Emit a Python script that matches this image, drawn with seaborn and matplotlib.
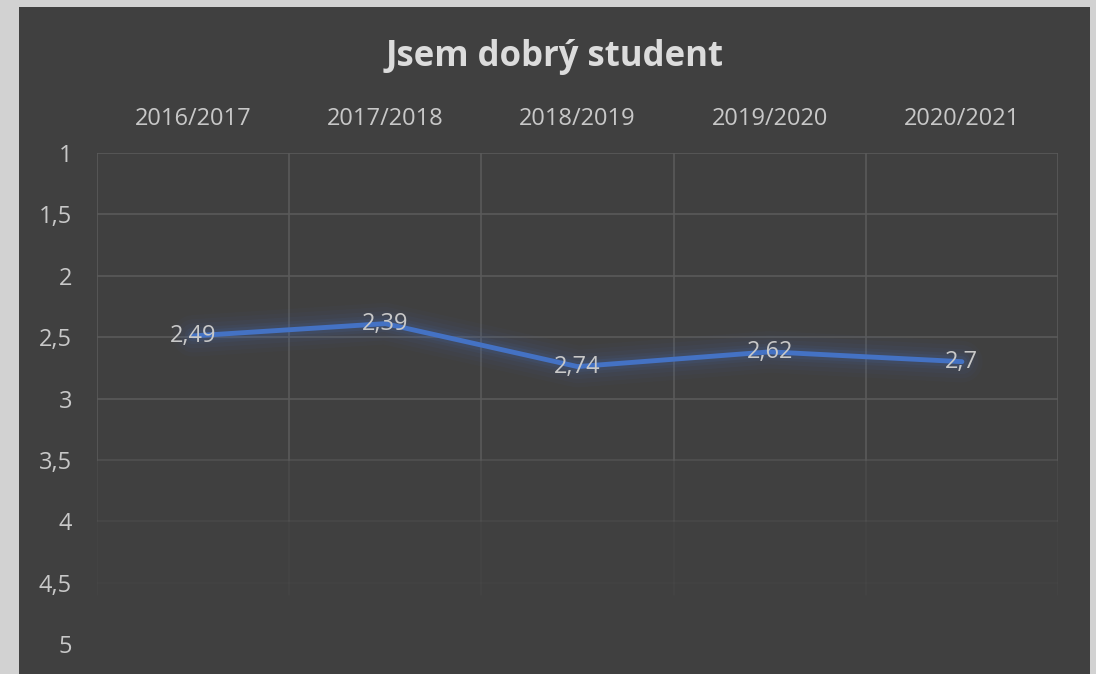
import pandas as pd
import numpy as np
import seaborn as sns
import matplotlib.pyplot as plt
from matplotlib.patches import Rectangle

# Data
years = ['2016/2017', '2017/2018', '2018/2019', '2019/2020', '2020/2021']
scores = [2.49, 2.39, 2.74, 2.62, 2.7]
y_ticks = [1, 1.5, 2, 2.5, 3, 3.5, 4, 4.5, 5]

df = pd.DataFrame({'Rok': years, 'Hodnoceni': scores})

sns.set_theme(style='dark')
plt.rcParams['font.family'] = ['Open Sans', 'DejaVu Sans']

bg = '#404040'
text_col = '#c8c8c8'
grid_col = '#5a5a5a'
line_col = '#4472C4'

fig = plt.figure(figsize=(10.96, 6.74), dpi=100)
fig.patch.set_facecolor('#d2d2d2')
# dark chart panel
fig.patches.append(Rectangle((19 / 1096, 0), (1090 - 19) / 1096, 1 - 7 / 674,
                             transform=fig.transFigure, facecolor=bg,
                             edgecolor='none', zorder=-1))

ax = fig.add_axes([97 / 1096, 1 - 644 / 674, (1058 - 97) / 1096, (644 - 153) / 674])
ax.set_zorder(2)
ax.patch.set_alpha(0)

x = np.arange(len(years))

# gridlines fading toward the bottom
h_alpha = [1, 1, 1, 1, 1, 0.6, 0.3, 0.12, 0]
for yv, a in zip(y_ticks, h_alpha):
    ax.axhline(yv, color=grid_col, lw=1.2, alpha=a, zorder=1)
for xv in np.arange(-0.5, len(years), 1.0):
    ax.plot([xv, xv], [1, 3.5], color=grid_col, lw=1.2, zorder=1)
    ax.plot([xv, xv], [3.5, 4.0], color=grid_col, lw=1.2, alpha=0.4, zorder=1)
    ax.plot([xv, xv], [4.0, 4.6], color=grid_col, lw=1.2, alpha=0.15, zorder=1)

# glow around the line
for lw, a in [(30, 0.03), (24, 0.04), (18, 0.05), (12, 0.07), (8, 0.1)]:
    ax.plot(x, scores, color=line_col, lw=lw, alpha=a, solid_capstyle='round',
            solid_joinstyle='round', zorder=2)
sns.lineplot(x=x, y=df['Hodnoceni'], color=line_col, lw=3.5, ax=ax, zorder=3)

for xi, v in zip(x, scores):
    ax.text(xi, v, f'{v:g}'.replace('.', ','), ha='center', va='center',
            color=text_col, fontsize=17, zorder=4)

ax.set_xlim(-0.5, len(years) - 0.5)
ax.set_ylim(5, 1)
ax.set_xticks(x)
ax.set_xticklabels(years)
ax.set_yticks(y_ticks)
ax.set_yticklabels([f'{t:g}'.replace('.', ',') for t in y_ticks])
ax.xaxis.tick_top()
ax.tick_params(axis='x', colors=text_col, labelsize=17, length=0, pad=16)
ax.tick_params(axis='y', colors=text_col, labelsize=17, length=0, pad=18)
ax.set_xlabel('')
ax.set_ylabel('')
for s in ax.spines.values():
    s.set_visible(False)
ax.grid(False)

fig.text(555 / 1096, 1 - 57 / 674, 'Jsem dobrý student', ha='center', va='center',
         color='#dcdcdc', fontsize=25, fontweight='bold')

fig.savefig('out.png', dpi=100, facecolor=fig.get_facecolor())
